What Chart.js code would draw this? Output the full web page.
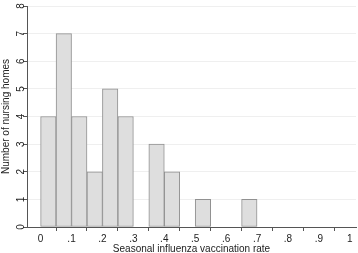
<!DOCTYPE html>
<html lang="en">
<head>
  <meta charset="UTF-8" />
  <title>Seasonal influenza vaccination rate</title>
  <script src="https://cdn.jsdelivr.net/npm/chart.js@4.4.0"></script>
  <style>
    html, body { margin: 0; padding: 0; background: #fff; }
    #wrap { width: 358px; height: 253px; }
  </style>
</head>
<body>
  <div id="wrap"><canvas id="histChart"></canvas></div>

  <script>
    // histogram bins (width .05), left edges and counts
    const binStarts = [0, 0.05, 0.10, 0.15, 0.20, 0.25, 0.30, 0.35, 0.40, 0.45, 0.50, 0.55, 0.60, 0.65];
    const counts    = [4, 7, 4, 2, 5, 4, 0, 3, 2, 0, 1, 0, 0, 1];
    const binWidth = 0.05;
    const xTicks = [0, 0.1, 0.2, 0.3, 0.4, 0.5, 0.6, 0.7, 0.8, 0.9, 1];
    const yTicks = [0, 1, 2, 3, 4, 5, 6, 7, 8];

    const points = binStarts.map((s, i) => ({ x: s + binWidth / 2, y: counts[i] }));

    const fmtX = v => {
      if (v === 0) return '0';
      if (Math.abs(v - 1) < 1e-9) return '1';
      return v.toFixed(1).replace(/^0/, '');
    };

    Chart.defaults.font.family = '"Liberation Sans", Arial, sans-serif';
    Chart.defaults.color = '#222';

    const ctx = document.getElementById('histChart').getContext('2d');
    new Chart(ctx, {
      type: 'bar',
      data: {
        datasets: [{
          data: points,
          backgroundColor: '#dedede',
          borderColor: '#919191',
          borderWidth: 1,
          borderSkipped: false,
          barPercentage: 1,
          categoryPercentage: 1
        }]
      },
      options: {
        responsive: true,
        maintainAspectRatio: false,
        animation: false,
        layout: { padding: { top: 6, right: 2, left: 0, bottom: 0 } },
        plugins: {
          legend: { display: false },
          tooltip: { enabled: false }
        },
        scales: {
          x: {
            type: 'linear',
            offset: false,
            min: -0.044,
            max: 1.02,
            afterBuildTicks: s => { s.ticks = xTicks.map(v => ({ value: v })); },
            afterFit: s => { s.height = 26; },
            ticks: {
              callback: v => fmtX(v),
              font: { size: 10 },
              padding: 2,
              maxRotation: 0,
              autoSkip: false
            },
            grid: { drawOnChartArea: false, drawTicks: true, tickLength: 4, tickColor: '#555' },
            border: { display: true, color: '#555', width: 1 },
            title: {
              display: true,
              text: 'Seasonal influenza vaccination rate',
              font: { size: 10 },
              padding: { top: 0, bottom: -2 }
            }
          },
          y: {
            min: 0,
            max: 8,
            afterBuildTicks: s => { s.ticks = yTicks.map(v => ({ value: v })); },
            afterFit: s => { s.width = 27; },
            ticks: {
              font: { size: 10 },
              minRotation: 90,
              maxRotation: 90,
              crossAlign: 'center',
              padding: -1
            },
            grid: { color: '#efefef', lineWidth: 1, tickLength: 4, tickColor: '#555' },
            border: { display: true, color: '#555', width: 1 },
            title: {
              display: true,
              text: 'Number of nursing homes',
              font: { size: 10 },
              padding: { top: 0, bottom: 0 }
            }
          }
        }
      }
    });
  </script>
</body>
</html>
